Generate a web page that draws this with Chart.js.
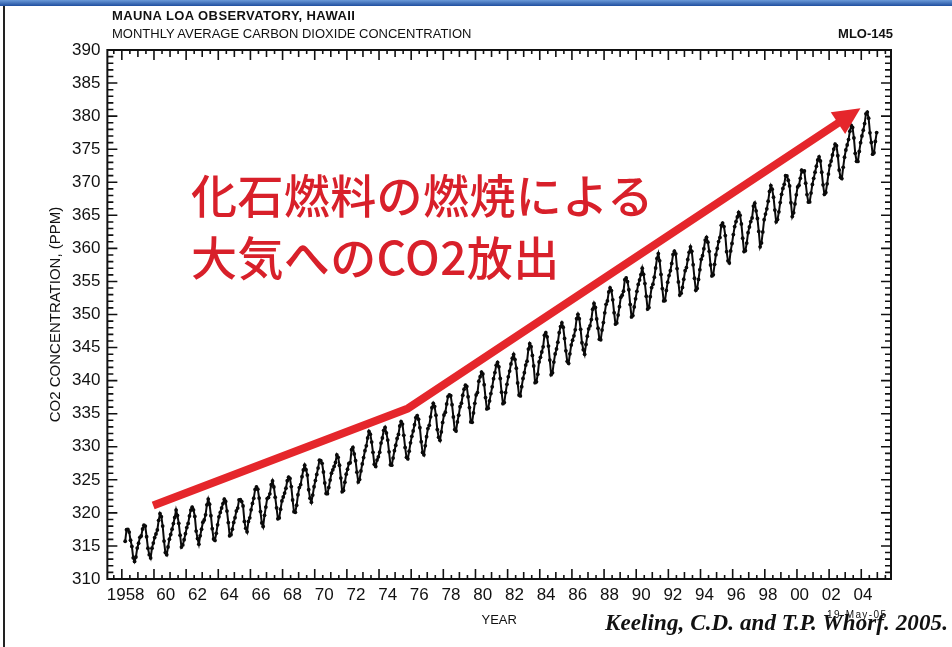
<!DOCTYPE html>
<html>
<head>
<meta charset="utf-8">
<script src="https://cdn.jsdelivr.net/npm/chart.js@4.4.1/dist/chart.umd.min.js"></script>
<style>
body { margin: 0; background: #fff; }
#wrap { position: relative; width: 952px; height: 647px; overflow: hidden; background: #fff; }
#co2-chart { position: absolute; left: 0; top: 0; }
.topbar { position: absolute; left: 0; top: 0; width: 952px; height: 6px; background: linear-gradient(#6b9ad8, #1f4f9f); }
.leftline { position: absolute; left: 3px; top: 6px; width: 2px; height: 641px; background: #222; }
.txt { position: absolute; white-space: nowrap; line-height: 1; color: #111; font-family: "Liberation Sans", Arial, sans-serif; }
.jp { position: absolute; white-space: nowrap; line-height: 1; color: #d8202a; font-family: "Noto Sans CJK JP", sans-serif; font-size: 46px; font-weight: 500; letter-spacing: 0.4px; }
</style>
</head>
<body>
<div id="wrap">
  <canvas id="co2-chart" width="952" height="647"></canvas>
  <div class="topbar"></div>
  <div class="leftline"></div>
  <div class="txt" style="left:112px; top:9px; font-size:13px; font-weight:bold; letter-spacing:0.4px;">MAUNA LOA OBSERVATORY, HAWAII</div>
  <div class="txt" style="left:112px; top:27px; font-size:13px;">MONTHLY AVERAGE CARBON DIOXIDE CONCENTRATION</div>
  <div class="txt" style="right:59px; top:27px; font-size:13px; font-weight:bold;">MLO-145</div>
  <div class="jp" style="left:191px; top:170px;">化石燃料の燃焼による</div>
  <div class="jp" style="left:191px; top:232px;">大気へのCO2放出</div>
  <div class="txt" style="left:827px; top:610px; font-size:10px; letter-spacing:1.4px;">19-May-05</div>
  <div class="txt" style="right:4px; top:611px; font-size:23px; font-weight:bold; font-style:italic; letter-spacing:0.1px; font-family:'Liberation Serif', 'Times New Roman', serif;">Keeling, C.D. and T.P. Whorf. 2005.</div>
</div>
<script>
// monthly mean CO2 (ppm), one row per year, Jan..Dec
var firstYear = 1958;
var co2Monthly = [
  [null, null, 315.71, 317.45, 317.50, 317.10, 315.86, 314.93, 313.20, 312.66, 313.33, 314.67],
  [315.42, 316.31, 316.50, 317.56, 318.13, 318.00, 316.39, 314.65, 313.68, 313.18, 314.66, 315.43],
  [316.27, 316.81, 317.42, 318.87, 319.87, 319.43, 318.01, 315.74, 314.00, 313.68, 314.84, 316.03],
  [316.73, 317.54, 318.38, 319.31, 320.42, 319.61, 318.42, 316.63, 314.83, 315.16, 315.94, 316.85],
  [317.78, 318.40, 319.53, 320.42, 320.85, 320.45, 319.45, 317.25, 316.11, 315.27, 316.53, 317.53],
  [318.58, 318.92, 319.70, 321.22, 322.08, 321.31, 319.58, 317.61, 316.05, 315.83, 316.91, 318.20],
  [319.41, 320.07, 320.74, 321.40, 322.06, 321.73, 320.27, 318.54, 316.54, 316.71, 317.53, 318.55],
  [319.27, 320.28, 320.73, 321.97, 322.00, 321.71, 321.05, 318.71, 317.66, 317.14, 318.70, 319.25],
  [320.46, 321.43, 322.23, 323.54, 323.91, 323.59, 322.24, 320.20, 318.48, 317.94, 319.63, 320.87],
  [322.17, 322.34, 322.88, 324.25, 324.83, 323.93, 322.38, 320.76, 319.10, 319.24, 320.56, 321.80],
  [322.40, 322.99, 323.73, 324.86, 325.40, 325.20, 323.98, 321.95, 320.18, 320.09, 321.16, 322.74],
  [323.83, 324.26, 325.47, 326.50, 327.21, 326.54, 325.72, 323.50, 322.22, 321.62, 322.69, 323.95],
  [324.89, 325.82, 326.77, 327.97, 327.91, 327.50, 326.18, 324.53, 322.93, 322.90, 323.85, 324.96],
  [326.01, 326.51, 327.01, 327.62, 328.76, 328.40, 327.20, 325.27, 323.20, 323.40, 324.63, 325.85],
  [326.60, 327.47, 327.58, 329.56, 329.90, 328.92, 327.88, 326.16, 324.68, 325.04, 326.34, 327.39],
  [328.37, 329.40, 330.14, 331.33, 332.31, 331.90, 330.70, 329.15, 327.35, 327.02, 327.99, 328.48],
  [329.18, 330.55, 331.32, 332.48, 332.92, 332.08, 331.01, 329.23, 327.27, 327.21, 328.29, 329.41],
  [330.23, 331.25, 331.87, 333.14, 333.80, 333.43, 331.73, 329.90, 328.40, 328.17, 329.32, 330.59],
  [331.58, 332.39, 333.33, 334.41, 334.71, 334.17, 332.89, 330.77, 329.14, 328.78, 330.14, 331.52],
  [332.75, 333.24, 334.53, 335.90, 336.57, 336.10, 334.76, 332.59, 331.42, 330.98, 332.24, 333.68],
  [334.80, 335.22, 336.47, 337.59, 337.84, 337.72, 336.37, 334.51, 332.60, 332.38, 333.75, 334.78],
  [336.05, 336.59, 337.79, 338.71, 339.30, 339.12, 337.56, 335.92, 333.75, 333.70, 335.12, 336.56],
  [337.84, 338.19, 339.91, 340.60, 341.29, 341.00, 339.39, 337.43, 335.72, 335.84, 336.93, 338.04],
  [339.06, 340.30, 341.21, 342.33, 342.74, 342.08, 340.32, 338.26, 336.52, 336.68, 338.19, 339.44],
  [340.57, 341.44, 342.53, 343.39, 343.96, 343.18, 341.88, 339.65, 337.81, 337.69, 339.09, 340.32],
  [341.20, 342.35, 342.93, 344.77, 345.58, 345.14, 343.81, 342.21, 339.69, 339.82, 340.98, 342.82],
  [343.52, 344.33, 345.11, 346.88, 347.25, 346.62, 345.22, 343.11, 340.90, 341.18, 342.80, 344.04],
  [344.79, 345.82, 347.25, 348.17, 348.74, 348.07, 346.38, 344.51, 342.92, 342.62, 344.06, 345.38],
  [346.11, 346.78, 347.68, 349.37, 350.03, 349.37, 347.76, 345.73, 344.68, 343.99, 345.48, 346.72],
  [347.84, 348.29, 349.23, 350.80, 351.66, 351.07, 349.33, 347.92, 346.27, 346.18, 347.64, 348.78],
  [350.25, 351.54, 352.05, 353.41, 354.04, 353.62, 352.22, 350.27, 348.55, 348.72, 349.91, 351.18],
  [352.60, 352.92, 353.53, 355.26, 355.52, 354.97, 353.75, 351.52, 349.64, 349.83, 351.14, 352.37],
  [353.50, 354.55, 355.23, 356.04, 357.00, 356.07, 354.67, 352.76, 350.82, 351.04, 352.69, 354.07],
  [354.59, 355.63, 357.03, 358.48, 359.22, 358.12, 356.06, 353.92, 352.05, 352.11, 353.64, 354.89],
  [355.88, 356.63, 357.72, 359.07, 359.58, 359.17, 356.94, 354.92, 352.94, 353.23, 354.09, 355.33],
  [356.63, 357.10, 358.32, 359.41, 360.23, 359.55, 357.53, 355.48, 353.67, 353.95, 355.30, 356.78],
  [358.34, 358.89, 359.95, 361.25, 361.67, 360.94, 359.55, 357.49, 355.84, 356.00, 357.59, 359.05],
  [359.98, 361.03, 361.66, 363.48, 363.82, 363.30, 361.94, 359.50, 358.11, 357.80, 359.61, 360.74],
  [362.09, 363.29, 364.06, 364.76, 365.45, 365.01, 363.70, 361.54, 359.51, 359.65, 360.80, 362.38],
  [363.23, 364.06, 364.61, 366.40, 366.84, 365.68, 364.52, 362.57, 360.24, 360.83, 362.49, 364.34],
  [365.18, 365.98, 367.13, 368.61, 369.49, 368.95, 367.74, 365.79, 364.01, 364.35, 365.52, 366.93],
  [368.18, 369.07, 369.68, 370.99, 370.96, 370.30, 369.45, 366.90, 364.81, 365.37, 366.72, 368.10],
  [369.29, 369.55, 370.60, 371.82, 371.58, 371.70, 369.86, 368.13, 367.00, 367.03, 368.37, 369.67],
  [370.59, 371.51, 372.43, 373.37, 373.85, 373.21, 371.51, 369.61, 368.18, 368.45, 369.76, 371.24],
  [372.53, 373.20, 374.12, 375.02, 375.76, 375.52, 374.01, 371.85, 370.75, 370.55, 372.25, 373.79],
  [374.88, 375.64, 376.45, 377.73, 378.60, 378.28, 376.70, 374.38, 373.17, 373.15, 374.66, 375.99],
  [377.00, 377.87, 378.88, 380.35, 380.62, 379.69, 377.47, 376.01, 374.25, 374.46, 376.16, 377.51]
];

// axis ticks
var yearTicks = [1958, 1960, 1962, 1964, 1966, 1968, 1970, 1972, 1974, 1976, 1978, 1980,
  1982, 1984, 1986, 1988, 1990, 1992, 1994, 1996, 1998, 2000, 2002, 2004];
var yearLabels = ['1958', '60', '62', '64', '66', '68', '70', '72', '74', '76', '78', '80',
  '82', '84', '86', '88', '90', '92', '94', '96', '98', '00', '02', '04'];
var ppmTicks = [310, 315, 320, 325, 330, 335, 340, 345, 350, 355, 360, 365, 370, 375, 380, 385, 390];

// red arrow drawn over the plot (year, ppm)
var arrowYear = [1959.95, 1975.8, 2003.95];
var arrowPpm = [321.1, 335.8, 381.2];

var points = [];
co2Monthly.forEach(function (row, i) {
  row.forEach(function (v, m) {
    if (v !== null) points.push({ x: firstYear + i + (m + 0.5) / 12, y: v });
  });
});

// inward tick marks on all four sides plus the frame
var frameTicks = {
  id: 'frameTicks',
  afterDatasetsDraw: function (chart) {
    var ctx = chart.ctx, a = chart.chartArea, x = chart.scales.x, y = chart.scales.y;
    ctx.save();
    ctx.strokeStyle = '#111';
    ctx.lineWidth = 1.6;
    ctx.beginPath();
    for (var t = Math.ceil(x.min * 2) / 2; t <= x.max; t += 0.5) {
      var px = x.getPixelForValue(t);
      var len = (t % 2 === 0) ? 10 : (t % 1 === 0 ? 7 : 4);
      ctx.moveTo(px, a.bottom); ctx.lineTo(px, a.bottom - len);
      ctx.moveTo(px, a.top); ctx.lineTo(px, a.top + len);
    }
    for (var v = y.min; v <= y.max; v++) {
      var py = y.getPixelForValue(v);
      var l2 = (v % 5 === 0) ? 10 : 6;
      ctx.moveTo(a.left, py); ctx.lineTo(a.left + l2, py);
      ctx.moveTo(a.right, py); ctx.lineTo(a.right - l2, py);
    }
    ctx.stroke();
    ctx.lineWidth = 2;
    ctx.strokeRect(a.left, a.top, a.width, a.height);
    ctx.restore();
  }
};

var redArrow = {
  id: 'redArrow',
  afterDatasetsDraw: function (chart) {
    var ctx = chart.ctx, x = chart.scales.x, y = chart.scales.y;
    var pts = arrowYear.map(function (yr, i) {
      return [x.getPixelForValue(yr), y.getPixelForValue(arrowPpm[i])];
    });
    var tip = pts[pts.length - 1], prev = pts[pts.length - 2];
    var ang = Math.atan2(tip[1] - prev[1], tip[0] - prev[0]);
    var headLen = 27, headHalf = 13;
    var bx = tip[0] - headLen * Math.cos(ang), by = tip[1] - headLen * Math.sin(ang);
    ctx.save();
    ctx.strokeStyle = '#e5262b';
    ctx.fillStyle = '#e5262b';
    ctx.lineWidth = 8;
    ctx.lineJoin = 'round';
    ctx.beginPath();
    ctx.moveTo(pts[0][0], pts[0][1]);
    for (var i = 1; i < pts.length - 1; i++) ctx.lineTo(pts[i][0], pts[i][1]);
    ctx.lineTo(bx + 2 * Math.cos(ang), by + 2 * Math.sin(ang));
    ctx.stroke();
    ctx.beginPath();
    ctx.moveTo(tip[0], tip[1]);
    ctx.lineTo(bx + headHalf * Math.sin(ang), by - headHalf * Math.cos(ang));
    ctx.lineTo(bx - headHalf * Math.sin(ang), by + headHalf * Math.cos(ang));
    ctx.closePath();
    ctx.fill();
    ctx.restore();
  }
};

var ctx = document.getElementById('co2-chart').getContext('2d');
var chart = new Chart(ctx, {
    type: 'line',
    data: {
        datasets: [{
            data: points,
            xAxisID: 'x',
            borderColor: '#0a0a0a',
            backgroundColor: '#0a0a0a',
            borderWidth: 2,
            pointRadius: 1.9,
            pointBorderWidth: 0,
            tension: 0
        }]
    },
    options: {
        responsive: false,
        animation: false,
        devicePixelRatio: 1,
        layout: { padding: { left: 33, right: 61, top: 50, bottom: 19 } },
        plugins: { legend: { display: false }, tooltip: { enabled: false } },
        scales: {
            // data axis (tick marks drawn by frameTicks)
            x: {
                type: 'linear',
                display: false,
                min: 1957.1,
                max: 2005.85
            },
            // year labels sit a little right of the tick marks in the original
            xLabels: {
                type: 'linear',
                position: 'bottom',
                min: 1956.31,
                max: 2005.77,
                grid: { display: false, drawTicks: false },
                border: { display: false },
                afterBuildTicks: function (scale) {
                    scale.ticks = yearTicks.map(function (v) { return { value: v }; });
                },
                ticks: {
                    padding: 6,
                    maxRotation: 0,
                    autoSkip: false,
                    color: '#111',
                    font: { family: 'Liberation Sans', size: 17 },
                    callback: function (value, index) {
                        return index === 0 ? yearLabels[index] + '\u2002\u2002' : yearLabels[index];
                    }
                },
                title: {
                    display: true,
                    text: 'YEAR',
                    color: '#111',
                    font: { family: 'Liberation Sans', size: 13 },
                    padding: { top: 1, bottom: 0 }
                }
            },
            y: {
                min: 310,
                max: 390,
                grid: { display: false, drawTicks: false },
                border: { display: false },
                afterBuildTicks: function (scale) {
                    scale.ticks = ppmTicks.map(function (v) { return { value: v }; });
                },
                ticks: {
                    padding: 7,
                    autoSkip: false,
                    color: '#111',
                    font: { family: 'Liberation Sans', size: 17 },
                    callback: function (value) { return String(value); }
                },
                title: {
                    display: true,
                    text: 'CO2 CONCENTRATION, (PPM)',
                    color: '#111',
                    font: { family: 'Liberation Sans', size: 15 },
                    padding: { top: 14, bottom: 0 }
                }
            }
        }
    },
    plugins: [frameTicks, redArrow]
});
</script>
</body>
</html>
